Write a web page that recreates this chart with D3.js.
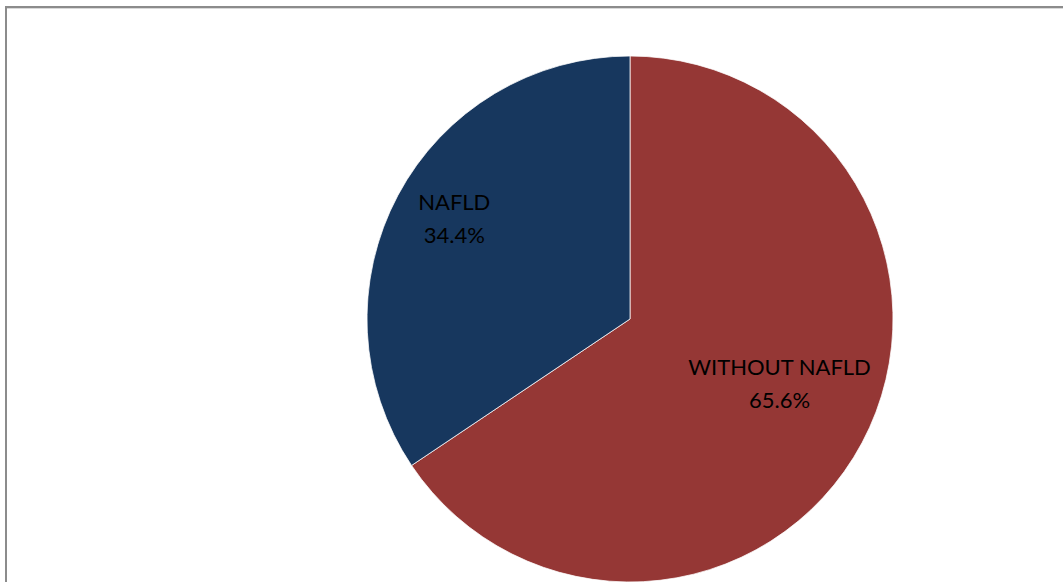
<!DOCTYPE html>
<html>
<head>
<meta charset="utf-8">
<script src="https://cdn.jsdelivr.net/npm/d3@7"></script>
<style>
  html, body { margin: 0; padding: 0; background: #fff; overflow: hidden; }
  svg { display: block; }
</style>
</head>
<body>
<svg id="chart" width="1063" height="582"></svg>
<script>
// Share of patients with and without NAFLD
const categories = ["WITHOUT NAFLD", "NAFLD"];
const percentages = [65.6, 34.4];
const percentLabels = ["65.6%", "34.4%"];
const sliceColors = ["#953735", "#17375E"];

const width = 1063, height = 582;
const svg = d3.select("#chart");

// chart area frame
svg.append("rect")
  .attr("x", 6).attr("y", 7)
  .attr("width", width + 20).attr("height", height + 20)
  .attr("fill", "#fff")
  .attr("stroke", "#8c8c8c")
  .attr("stroke-width", 2);
svg.append("line")
  .attr("x1", 7).attr("x2", width)
  .attr("y1", 8.5).attr("y2", 8.5)
  .attr("stroke", "#d9d9d9").attr("stroke-width", 1);

const cx = 630, cy = 319, radius = 263;

const data = categories.map((c, i) => ({ name: c, value: percentages[i], label: percentLabels[i], color: sliceColors[i] }));

const pie = d3.pie().sort(null).value(d => d.value);
const arc = d3.arc().innerRadius(0).outerRadius(radius);

const g = svg.append("g").attr("transform", `translate(${cx},${cy})`);
const arcs = pie(data);

g.selectAll("path.slice")
  .data(arcs)
  .join("path")
  .attr("class", "slice")
  .attr("d", arc)
  .attr("fill", d => d.data.color)
  .attr("stroke", "#fff")
  .attr("stroke-width", 0.75);

// label placement: distance from centre (fraction of radius) and angle nudge (radians)
const labelFactor = [0.62, 0.77];
const labelNudge = [-0.08, 0.03];

const labels = g.selectAll("text.lbl")
  .data(arcs)
  .join("text")
  .attr("class", "lbl")
  .attr("text-anchor", "middle")
  .attr("font-family", "Lato, 'Open Sans', sans-serif")
  .attr("font-size", 22)
  .attr("fill", "#000")
  .attr("transform", (d, i) => {
    const r = radius * labelFactor[i];
    const a = (d.startAngle + d.endAngle) / 2 + labelNudge[i];
    return `translate(${r * Math.sin(a)},${-r * Math.cos(a)})`;
  });

labels.append("tspan").attr("x", 0).attr("dy", "-0.4em").text(d => d.data.name);
labels.append("tspan").attr("x", 0).attr("dy", "1.5em").text(d => d.data.label);
</script>
</body>
</html>
